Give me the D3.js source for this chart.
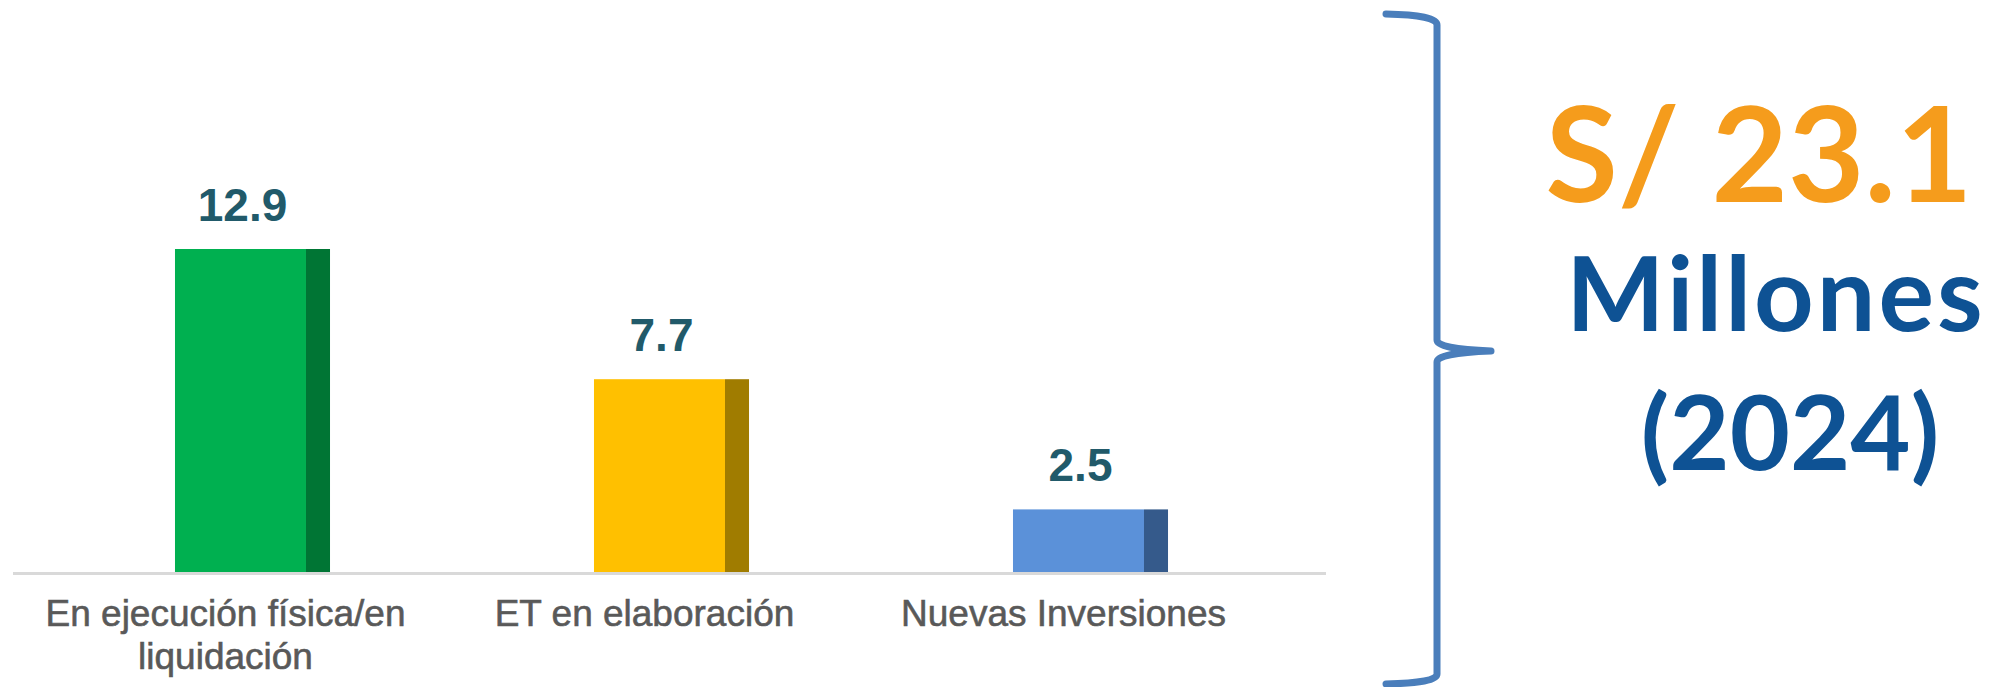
<!DOCTYPE html>
<html>
<head>
<meta charset="utf-8">
<script src="https://cdn.jsdelivr.net/npm/d3@7"></script>
<style>
  html, body { margin: 0; padding: 0; background: #fff; }
  svg { display: block; }
</style>
</head>
<body>
<svg id="chart" width="1991" height="687"></svg>
<script>
const categories = ["En ejecución física/en liquidación", "ET en elaboración", "Nuevas Inversiones"];
const categoryLines = [["En ejecución física/en", "liquidación"], ["ET en elaboración"], ["Nuevas Inversiones"]];
const values = [12.9, 7.7, 2.5];
const frontColors = ["#00b050", "#ffc000", "#5b91d9"];
const sideColors = ["#007534", "#a07c00", "#355a8b"];
const totalLines = ["S/ 23.1", "Millones", "(2024)"];

const svg = d3.select("#chart");

const baseY = 572;

const x = d3
  .scaleBand()
  .domain(categories)
  .range([43, 1300])
  .paddingInner(0.63)
  .paddingOuter(0.315);

const y = d3.scaleLinear().domain([0, 12.9]).range([baseY, 249]);

const sideW = x.bandwidth() * 0.155;

// axis line
svg
  .append("line")
  .attr("x1", 13)
  .attr("x2", 1326)
  .attr("y1", baseY + 1.5)
  .attr("y2", baseY + 1.5)
  .attr("stroke", "#d9d9d9")
  .attr("stroke-width", 3);

const bars = svg
  .selectAll(".bar")
  .data(values)
  .enter()
  .append("g")
  .classed("bar", true);

bars
  .append("rect")
  .attr("x", (d, i) => x(categories[i]))
  .attr("y", (d) => y(d))
  .attr("width", x.bandwidth() - sideW)
  .attr("height", (d) => baseY - y(d))
  .attr("fill", (d, i) => frontColors[i]);

bars
  .append("rect")
  .attr("x", (d, i) => x(categories[i]) + x.bandwidth() - sideW)
  .attr("y", (d) => y(d))
  .attr("width", sideW)
  .attr("height", (d) => baseY - y(d))
  .attr("fill", (d, i) => sideColors[i]);

bars
  .append("text")
  .attr("x", (d, i) => x(categories[i]) + x.bandwidth() / 2 - 10)
  .attr("y", (d) => y(d) - 28)
  .attr("text-anchor", "middle")
  .style("font-family", "'Liberation Sans', Arial, sans-serif")
  .style("font-weight", "bold")
  .style("font-size", "46px")
  .attr("fill", "#215a6a")
  .text((d) => d.toFixed(1));

// category labels
svg
  .selectAll(".cat")
  .data(categoryLines)
  .enter()
  .append("text")
  .classed("cat", true)
  .attr("x", (d, i) => x(categories[i]) + x.bandwidth() / 2 - 27)
  .attr("y", 626)
  .attr("text-anchor", "middle")
  .style("font-family", "'Liberation Sans', Arial, sans-serif")
  .style("font-size", "37px")
  .attr("fill", "#595959")
  .attr("stroke", "#595959")
  .attr("stroke-width", 0.6)
  .selectAll("tspan")
  .data((d) => d)
  .enter()
  .append("tspan")
  .attr("x", function () {
    return d3.select(this.parentNode).attr("x");
  })
  .attr("dy", (d, i) => (i === 0 ? 0 : 43))
  .text((d) => d);

// brace
svg
  .append("path")
  .attr(
    "d",
    "M1386,14 Q1437,15 1437,25 L1437,340 Q1437,349 1491,351 Q1437,353 1437,362 L1437,674 Q1437,683 1386,684"
  )
  .attr("fill", "none")
  .attr("stroke", "#4a7ebb")
  .attr("stroke-width", 7)
  .attr("stroke-linecap", "round")
  .attr("stroke-linejoin", "round");

// total
const totalX = [1759, 1776, 1790];
const totalY = [202, 331, 470];
svg
  .selectAll(".total")
  .data(totalLines)
  .enter()
  .append("text")
  .classed("total", true)
  .attr("x", (d, i) => totalX[i])
  .attr("y", (d, i) => totalY[i])
  .attr("text-anchor", "middle")
  .style("font-family", "Lato, 'Open Sans', sans-serif")
  .style("font-weight", "bold")
  .style("font-size", (d, i) => (i === 0 ? "132px" : "104px"))
  .style("letter-spacing", (d, i) => (i === 1 ? "3px" : "0px"))
  .attr("fill", (d, i) => (i === 0 ? "#f59c1c" : "#0e5294"))
  .text((d) => d);
</script>
</body>
</html>
